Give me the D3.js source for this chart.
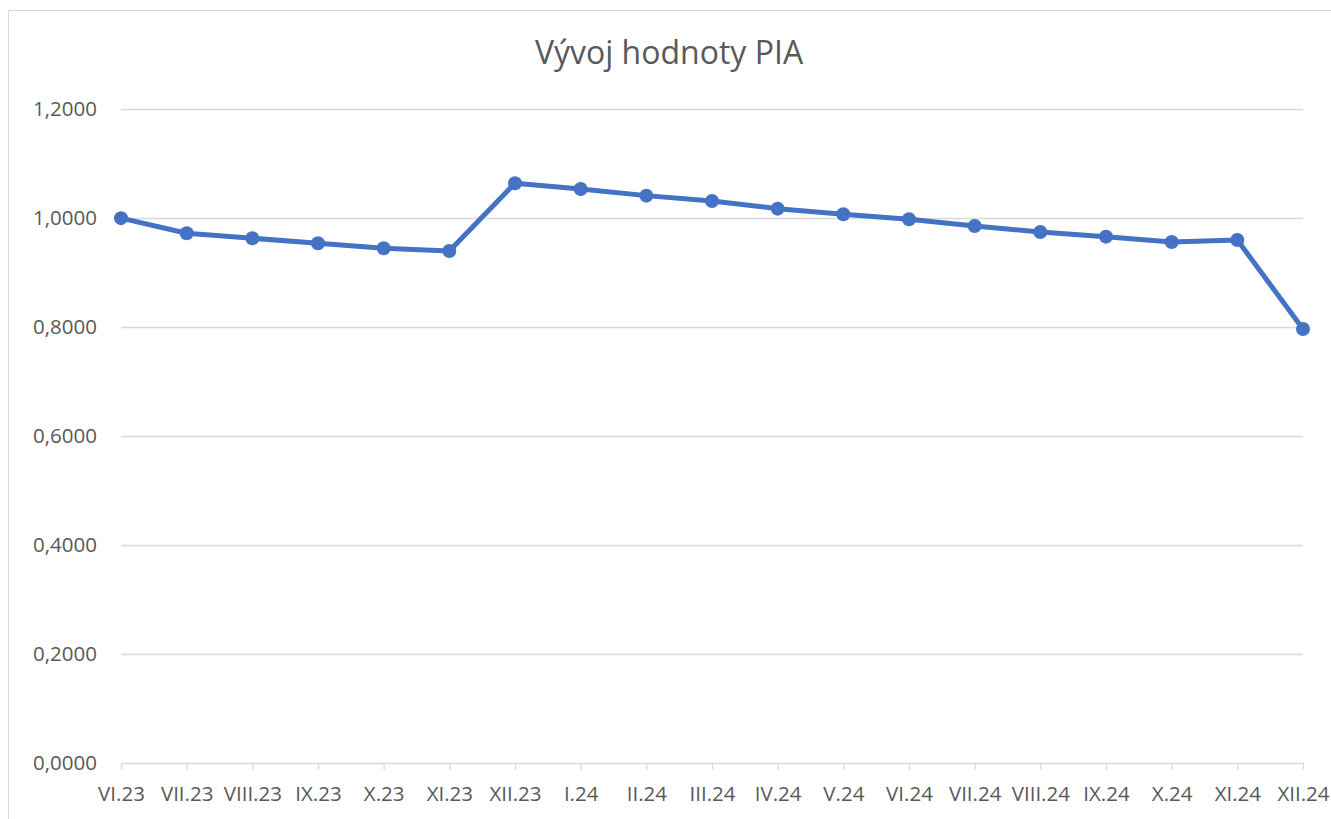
<!DOCTYPE html>
<html>
<head>
<meta charset="utf-8">
<script src="https://cdn.jsdelivr.net/npm/d3@7"></script>
<style>
  body { margin: 0; background: #fff; }
  text { font-family: "Open Sans", sans-serif; fill: #595959; }
</style>
</head>
<body>
<div id="main"></div>
<script>
// Datos del gráfico
var mesesLabels = ["VI.23", "VII.23", "VIII.23", "IX.23", "X.23", "XI.23", "XII.23",
  "I.24", "II.24", "III.24", "IV.24", "V.24", "VI.24", "VII.24", "VIII.24",
  "IX.24", "X.24", "XI.24", "XII.24"];
var valoresPIA = [1.0000, 0.9723, 0.9631, 0.9539, 0.9447, 0.9397, 1.0641,
  1.0537, 1.0414, 1.0316, 1.0175, 1.0072, 0.9980, 0.9857, 0.9746,
  0.9660, 0.9563, 0.9600, 0.7964];
var yTicks = [0, 0.2, 0.4, 0.6, 0.8, 1.0, 1.2];
var titulo = "Vývoj hodnoty PIA";

var totalWidth = 1331;
var totalHeight = 819;
var plotLeft = 121, plotRight = 1303, plotTop = 109.3, plotBottom = 762.5;

var svg = d3.select("#main").append("svg")
  .attr("width", totalWidth)
  .attr("height", totalHeight);

// Marco del gráfico
svg.append("rect")
  .attr("x", 8.5).attr("y", 10.5)
  .attr("width", 1340).attr("height", 840)
  .attr("fill", "none")
  .attr("stroke", "#d9d9d9")
  .attr("stroke-width", 1);

var x = d3.scalePoint().domain(mesesLabels).range([plotLeft, plotRight]).padding(0);
var y = d3.scaleLinear().domain([0, 1.2]).range([plotBottom, plotTop]);

// Líneas de cuadrícula
svg.append("g").selectAll("line")
  .data(yTicks.filter(function(d) { return d > 0; }))
  .enter().append("line")
  .attr("x1", plotLeft).attr("x2", plotRight)
  .attr("y1", function(d) { return Math.round(y(d)) + 0.5; })
  .attr("y2", function(d) { return Math.round(y(d)) + 0.5; })
  .attr("stroke", "#d9d9d9")
  .attr("stroke-width", 1.3);

// Eje Y (sin línea, solo etiquetas)
var yAxis = svg.append("g")
  .attr("transform", "translate(" + plotLeft + ",0)")
  .call(d3.axisLeft(y).tickValues(yTicks).tickSize(0).tickPadding(24)
    .tickFormat(function(d) { return d3.format(".4f")(d).replace(".", ","); }));
yAxis.select(".domain").remove();
yAxis.selectAll("text").style("font-size", "20.5px").attr("fill", "#595959");

// Eje X
var xAxis = svg.append("g")
  .attr("transform", "translate(0," + Math.round(plotBottom) + ")")
  .call(d3.axisBottom(x).tickSize(7).tickPadding(16).tickSizeOuter(0));
xAxis.select(".domain").attr("stroke", "#d9d9d9").attr("stroke-width", 1.3);
xAxis.selectAll(".tick line").attr("stroke", "#d9d9d9").attr("stroke-width", 1.3);
xAxis.selectAll("text").style("font-size", "20.5px").attr("fill", "#595959");

// Línea de la serie
var linea = d3.line()
  .x(function(d, i) { return x(mesesLabels[i]); })
  .y(function(d) { return y(d); });

svg.append("path")
  .datum(valoresPIA)
  .attr("d", linea)
  .attr("fill", "none")
  .attr("stroke", "#4472c4")
  .attr("stroke-width", 5)
  .attr("stroke-linejoin", "round");

svg.append("g").selectAll("circle")
  .data(valoresPIA)
  .enter().append("circle")
  .attr("cx", function(d, i) { return x(mesesLabels[i]); })
  .attr("cy", function(d) { return y(d); })
  .attr("r", 7)
  .attr("fill", "#4472c4");

// Título
svg.append("text")
  .attr("x", 669).attr("y", 64)
  .attr("text-anchor", "middle")
  .style("font-size", "32px")
  .text(titulo);
</script>
</body>
</html>
